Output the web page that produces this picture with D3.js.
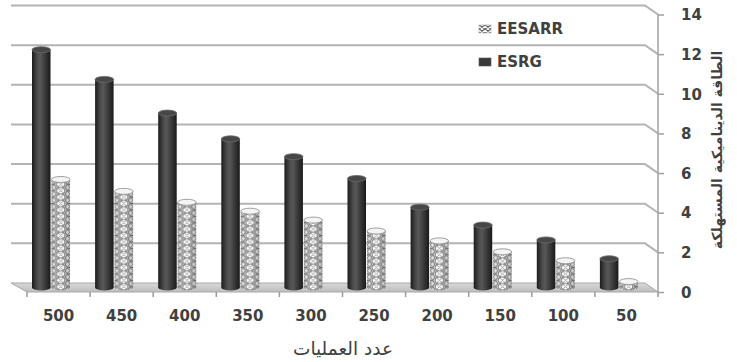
<!DOCTYPE html>
<html>
<head>
<meta charset="utf-8">
<script src="https://cdn.jsdelivr.net/npm/d3@7"></script>
<style>
  html, body { margin: 0; padding: 0; background: #fff; }
  svg { display: block; }
  text { font-family: "DejaVu Sans", sans-serif; fill: #404040; }
</style>
</head>
<body>
<svg id="chart" width="737" height="362"></svg>
<script>
// Number of operations (categories), reversed as on the axis
const categories = ["500", "450", "400", "350", "300", "250", "200", "150", "100", "50"];
// Consumed dynamic energy per method
const esrgValues   = [12.0, 10.5, 8.8, 7.5, 6.6, 5.5, 4.05, 3.15, 2.4, 1.45];
const eesarrValues = [5.45, 4.85, 4.3, 3.85, 3.4, 2.85, 2.35, 1.8, 1.35, 0.3];
const seriesNames = ["ESRG", "EESARR"];
const yTicks = [0, 2, 4, 6, 8, 10, 12, 14];
const xTitle = "عدد العمليات";
const yTitle = "الطاقة الديناميكية المستهلكة";

const svg = d3.select("#chart");
const defs = svg.append("defs");

// front plane of the 3-D box; the back wall sits up and to the left by depth
const depth = { dx: -13, dy: -9 };
const x = d3.scaleBand().domain(categories).range([27, 658]).padding(0);
const y = d3.scaleLinear().domain([0, 14]).range([292, 14.5]);
const xInner = d3.scaleBand().domain(seriesNames).range([5, 43]).paddingInner(0.05);
const bw = xInner.bandwidth();

// gradients and pattern for the cylinders
const darkGrad = defs.append("linearGradient").attr("id", "darkCyl");
[[0, "#1c1c1c"], [0.3, "#4d4d4d"], [0.45, "#575757"], [0.75, "#353535"], [1, "#1a1a1a"]]
  .forEach(([o, c]) => darkGrad.append("stop").attr("offset", o).attr("stop-color", c));

const shadeGrad = defs.append("linearGradient").attr("id", "lightShade");
[[0, "#000", 0.22], [0.35, "#fff", 0], [0.7, "#000", 0.03], [1, "#000", 0.25]]
  .forEach(([o, c, a]) => shadeGrad.append("stop").attr("offset", o)
    .attr("stop-color", c).attr("stop-opacity", a));

// chain of rings: one column down the middle of a bar, half rings at its sides
const pw = bw, ph = 6.4;
const pat = defs.append("pattern").attr("id", "rings")
  .attr("patternUnits", "userSpaceOnUse").attr("width", pw).attr("height", ph);
pat.append("rect").attr("width", pw).attr("height", ph).attr("fill", "#fff");
[[pw / 2, ph / 2], [0, 0], [pw, 0], [0, ph], [pw, ph]].forEach(([cx, cy]) =>
  pat.append("ellipse").attr("cx", cx).attr("cy", cy).attr("rx", 4.3).attr("ry", 3.4)
    .attr("fill", "none").attr("stroke", "#7d7d7d").attr("stroke-width", 1.2));
[[pw / 2, 0], [pw / 2, ph], [0, ph / 2], [pw, ph / 2]].forEach(([cx, cy]) =>
  pat.append("path").attr("d", `M${cx - 4},${cy}L${cx},${cy - 3}L${cx + 4},${cy}L${cx},${cy + 3}Z`)
    .attr("fill", "none").attr("stroke", "#9a9a9a").attr("stroke-width", 0.9));

const legendPat = defs.append("pattern").attr("id", "ringsSmall")
  .attr("patternUnits", "userSpaceOnUse").attr("width", 6).attr("height", 4);
legendPat.append("rect").attr("width", 6).attr("height", 4).attr("fill", "#fff");
legendPat.append("path").attr("d", "M0,0L6,4M6,0L0,4")
  .attr("stroke", "#666").attr("stroke-width", 1.2);

const floorGrad = defs.append("linearGradient").attr("id", "floorGrad")
  .attr("x1", 0).attr("y1", 0).attr("x2", 0).attr("y2", 1);
[[0, "#d8d8d8"], [1, "#bdbdbd"]]
  .forEach(([o, c]) => floorGrad.append("stop").attr("offset", o).attr("stop-color", c));

// back-wall gridlines bending down to the axis ticks
const x0 = x.range()[0], x1 = x.range()[1];
const backLeft = x0 + depth.dx - 3;
const backRight = x1 + depth.dx;
svg.append("g").selectAll("path").data(yTicks.filter(d => d > 0)).join("path")
  .attr("d", d => `M${backLeft},${y(d) + depth.dy}H${backRight}L${x1},${y(d)}`)
  .attr("fill", "none").attr("stroke", "#b4b4b4").attr("stroke-width", 2);

// floor
svg.append("path")
  .attr("d", `M${backLeft},${y(0) + depth.dy}H${backRight}L${x1},${y(0)}H${x0}Z`)
  .attr("fill", "url(#floorGrad)").attr("stroke", "#a8a8a8").attr("stroke-width", 1);

// category ticks under the floor
svg.append("g").selectAll("line").data(d3.range(categories.length + 1)).join("line")
  .attr("x1", i => x0 + i * x.bandwidth()).attr("x2", i => x0 + i * x.bandwidth())
  .attr("y1", y(0)).attr("y2", y(0) + 5)
  .attr("stroke", "#9a9a9a").attr("stroke-width", 1.5);

// right value axis
const axisG = svg.append("g").attr("transform", `translate(${x1},0)`);
axisG.call(d3.axisRight(y).tickValues(yTicks).tickSize(6).tickPadding(17).tickFormat(d3.format("d")));
axisG.select(".domain").attr("stroke", "#a0a0a0").attr("stroke-width", 1.5).attr("d", `M0,${y(14)}V${y(0)}`);
axisG.selectAll(".tick line").attr("stroke", "#a0a0a0").attr("stroke-width", 1.5);
axisG.selectAll(".tick text").attr("font-size", 15).attr("font-weight", "bold")
  .attr("font-family", "'DejaVu Sans', sans-serif").attr("fill", "#404040").attr("dy", "0.35em");

// cylinders, sitting half way back on the floor
const midDy = depth.dy / 2;
const rows = [];
categories.forEach((c, i) => {
  rows.push({ cat: c, series: "ESRG", value: esrgValues[i] });
  rows.push({ cat: c, series: "EESARR", value: eesarrValues[i] });
});
const ry = 3;
const cyl = svg.append("g").selectAll("g").data(rows).join("g")
  .attr("transform", d => `translate(${x(d.cat) + xInner(d.series)},${midDy})`);

cyl.each(function (d) {
  const g = d3.select(this);
  const top = y(d.value), bottom = y(0);
  const dark = d.series === "ESRG";
  const bodyPath = `M0,${top}V${bottom}A${bw / 2},${ry} 0 0 0 ${bw},${bottom}V${top}Z`;
  if (dark) {
    g.append("path").attr("d", bodyPath).attr("fill", "url(#darkCyl)");
    g.append("ellipse").attr("cx", bw / 2).attr("cy", top).attr("rx", bw / 2).attr("ry", ry)
      .attr("fill", "#474747").attr("stroke", "#6a6a6a").attr("stroke-width", 0.8);
  } else {
    g.append("path").attr("d", bodyPath).attr("fill", "url(#rings)");
    g.append("path").attr("d", bodyPath).attr("fill", "url(#lightShade)");
    g.append("ellipse").attr("cx", bw / 2).attr("cy", top).attr("rx", bw / 2).attr("ry", ry)
      .attr("fill", "#f4f4f4").attr("stroke", "#8a8a8a").attr("stroke-width", 0.8);
  }
});

// category labels
svg.append("g").selectAll("text").data(categories).join("text")
  .attr("x", d => x(d) + x.bandwidth() / 2).attr("y", 320.5)
  .attr("text-anchor", "middle").attr("font-size", 15).attr("font-weight", "bold")
  .text(d => d);

// axis titles
svg.append("text").attr("x", 343).attr("y", 355).attr("text-anchor", "middle")
  .attr("font-size", 18.5).text(xTitle);
svg.append("text").attr("transform", "translate(722,150) rotate(-90)")
  .attr("text-anchor", "middle").attr("font-size", 14).attr("font-weight", "bold")
  .text(yTitle);

// legend
const legend = [
  { name: "EESARR", fill: "url(#ringsSmall)", y: 29 },
  { name: "ESRG", fill: "#3a3a3a", y: 62 }
];
const lg = svg.append("g").selectAll("g").data(legend).join("g")
  .attr("transform", d => `translate(479,${d.y})`);
lg.append("rect").attr("x", 0).attr("y", -4).attr("width", 12).attr("height", 8)
  .attr("fill", d => d.fill).attr("stroke", d => d.name === "ESRG" ? "#555" : "#aaa").attr("stroke-width", 0.6);
lg.append("text").attr("x", 18).attr("dy", "0.36em").attr("font-size", 15).attr("font-weight", "bold")
  .text(d => d.name);
</script>
</body>
</html>
